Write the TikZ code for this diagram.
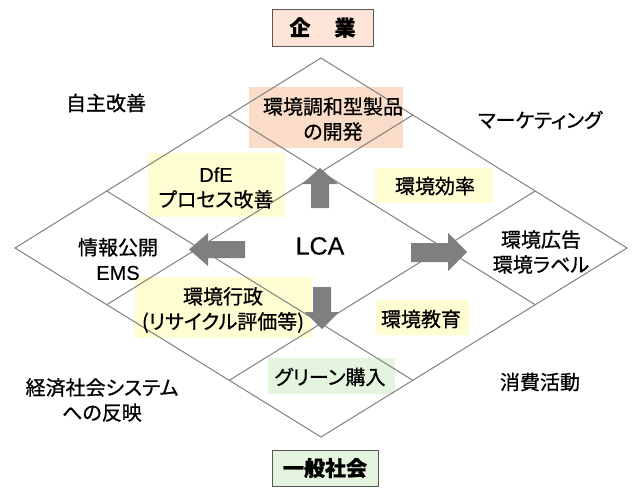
\documentclass[tikz,border=0pt]{standalone}
\usepackage{fontspec}
\setmainfont{Liberation Sans}
\newfontfamily\jp[FakeBold=0.8, RawFeature={+palt}]{Noto Sans CJK JP}
\newfontfamily\lat[FakeBold=0.4]{Liberation Sans}
\usetikzlibrary{calc}
\definecolor{peach}{HTML}{FADCC8}
\definecolor{peachlt}{HTML}{FCE4D6}
\definecolor{ylw}{HTML}{FFFDD2}
\definecolor{grn}{HTML}{E4F4DE}
\definecolor{gridc}{HTML}{808080}
\definecolor{arrc}{HTML}{7F7F7F}
\definecolor{edgec}{HTML}{595959}
\begin{document}
\begin{tikzpicture}[x=1pt,y=-1pt,
  jtxt/.style={font=\jp\fontsize{20}{25}\selectfont, align=center, inner sep=0pt, text=black},
  titlebox/.style={draw=edgec, line width=1pt, inner sep=0pt, text=black, font=\jp\bfseries\fontsize{21}{24}\selectfont},
  gridline/.style={draw=gridc, line width=1pt},
  blockarrow/.style={fill=arrc, draw=none}
]
\useasboundingbox (0,0) rectangle (632,490);

% highlight boxes
\fill[peach] (249,87) rectangle (403,148);
\fill[ylw] (148,153) rectangle (285,217);
\fill[ylw] (375,168) rectangle (493,203);
\fill[ylw] (135,277) rectangle (312,338);
\fill[ylw] (376,300) rectangle (469,335);
\fill[grn] (268,358) rectangle (395,394);

% diamond grid
\coordinate (T) at (321,58);
\coordinate (R) at (627,248);
\coordinate (B) at (321,437);
\coordinate (L) at (15,248);
\draw[gridline] (T) -- (R) -- (B) -- (L) -- cycle;
\foreach \t in {0.3,0.7}{
  \draw[gridline] ($(T)!\t!(L)$) -- ($(R)!\t!(B)$);
  \draw[gridline] ($(T)!\t!(R)$) -- ($(L)!\t!(B)$);
}

% block arrows
\fill[blockarrow] (311,208) -- (329,208) -- (329,184) -- (338,184) -- (320,168) -- (302,184) -- (311,184) -- cycle;
\fill[blockarrow] (313,287) -- (331,287) -- (331,312) -- (339,312) -- (322,329) -- (305,312) -- (313,312) -- cycle;
\fill[blockarrow] (245,241) -- (245,258) -- (208,258) -- (208,266) -- (189,249.5) -- (208,233) -- (208,241) -- cycle;
\fill[blockarrow] (411,243) -- (411,262) -- (448,262) -- (448,271) -- (467,252) -- (448,233) -- (448,243) -- cycle;

% title boxes
\node[titlebox, fill=peachlt, minimum width=101pt, minimum height=37pt] (kigyo) at (322.5,27.5) {企\hspace{24pt}業};
\node[titlebox, fill=grn, minimum width=106pt, minimum height=36pt] (ippan) at (325,468) {一般社会};

% texts
\node[jtxt] (kankyochowa) at (333,119) {環境調和型製品\\の開発};
\node[jtxt] (dfe) at (216,188) {{\lat DfE}\\プロセス改善};
\node[jtxt] (koritsu) at (435,186) {環境効率};
\node[font=\lat\fontsize{25}{28}\selectfont, inner sep=0pt, text=black] (lca) at (320,246) {LCA};
\node[jtxt] (joho) at (118,259) {情報公開\\{\lat EMS}};
\node[jtxt] (kokoku) at (541,252) {環境広告\\環境ラベル};
\node[jtxt] (gyosei) at (223,310) {環境行政\\(リサイクル評価等)};
\node[jtxt] (kyoiku) at (421,319) {環境教育};
\node[jtxt] (green) at (330,377) {グリーン購入};
\node[jtxt] (jishu) at (106,103) {自主改善};
\node[jtxt] (marketing) at (540,120) {マーケティング};
\node[jtxt] (keizai) at (102,400) {経済社会システム\\への反映};
\node[jtxt] (shohi) at (540,382) {消費活動};
\end{tikzpicture}
\end{document}
